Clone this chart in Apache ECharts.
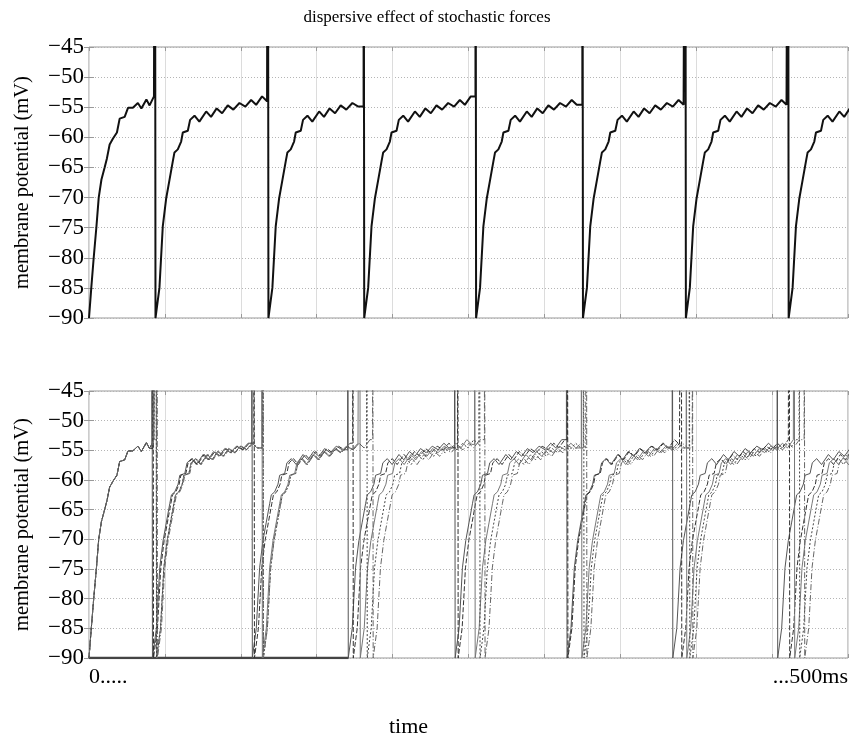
<!DOCTYPE html>
<html>
<head>
<meta charset="utf-8">
<script src="https://cdn.jsdelivr.net/npm/echarts@6/dist/echarts.min.js"></script>
<style>
  html, body { margin: 0; padding: 0; background: #fff; }
  #chart { width: 854px; height: 742px; }
</style>
</head>
<body>
<div id="chart"></div>
<script>
// charge-up from the start of the run: [ms after start, mV]
const firstRise = [
  [0, -90], [1.5, -85], [3.1, -80], [4.9, -74.8], [6.4, -70], [8.2, -67],
  [10.3, -65], [11.8, -63.5], [13.6, -61.2], [15.8, -60.2], [18.4, -59.2],
  [20.2, -56.9], [23.5, -56.6], [25.7, -55.1], [28.9, -55.1], [32.2, -54.3],
  [34.5, -55.2], [37.8, -53.7], [39.9, -54.7], [42.8, -53.2], [45.2, -54.0],
  [47.5, -53.3]
];
// charge-up after a reset: [ms after reset, mV]
const laterRise = [
  [0, -90], [2.6, -85], [4.8, -74.8], [7.0, -70.2], [9.2, -67.1], [11.4, -64],
  [12.5, -62.5], [14.7, -62], [16.9, -60.7], [18.0, -59.2], [21.3, -58.9],
  [22.8, -57.1], [25.7, -56.4], [28.9, -57.4], [33.4, -55.7], [36.6, -56.6],
  [40.3, -55.2], [43.9, -56.0], [47.6, -54.7], [51.3, -55.4], [55.3, -54.3],
  [59.2, -54.9], [63.0, -53.8], [66.3, -54.6], [70.2, -53.2], [73.5, -54.0],
  [76.3, -53.0]
];
// spike times (ms), deterministic neuron
const spikesTop = [43.4, 117.8, 180.9, 254.6, 325.0, 392.8, 460.5];
// spike times (ms), five noisy neurons
const spikesA = [41.4, 107.2, 170.4, 240.8, 314.5, 384.2, 453.3];
const spikesB = [42.1, 108.6, 173.7, 242.8, 315.1, 390.1, 461.2];
const spikesC = [44.1, 113.8, 178.3, 254.0, 324.3, 393.4, 464.5];
const spikesD = [44.1, 114.5, 182.9, 257.2, 325.7, 395.4, 467.8];
const spikesE = [44.7, 114.5, 186.8, 260.5, 327.6, 397.4, 471.1];
// one trace held at the reset level early in the run
const heldAtReset = [[0, -90], [171, -90]];
const spikePeak = 20;
const resetDelay = 0.4;
const xLabels = { 0: '0.....', 500: '...500ms' };

function trace(spikes) {
  const pts = [];
  let t0 = 0, shape = firstRise;
  spikes.forEach(s => {
    let last = shape[0][1];
    shape.forEach(([dt, v]) => {
      if (t0 + dt < s) { pts.push([t0 + dt, v]); last = v; }
    });
    pts.push([s, last], [s, spikePeak]);
    t0 = s + resetDelay;
    shape = laterRise;
  });
  shape.forEach(([dt, v]) => pts.push([t0 + dt, v]));
  return pts;
}

const serif = 'Liberation Serif';
const minus = v => (v < 0 ? '\u2212' : '') + Math.abs(v);

function xAxes(gi, bottom) {
  return [{
    type: 'value', gridIndex: gi, min: 0, max: 500, interval: 50,
    axisLine: { show: false },
    axisTick: { inside: true, length: 4, lineStyle: { color: '#999' } },
    splitLine: { show: true, lineStyle: { color: '#dcdcdc', width: 1 } },
    axisLabel: bottom ? {
      show: true, color: '#000', fontFamily: serif, fontSize: 22, margin: 8,
      formatter: v => xLabels[v] || '',
      alignMinLabel: 'left', alignMaxLabel: 'right'
    } : { show: false },
    name: bottom ? 'time' : '', nameLocation: 'middle', nameGap: 58,
    nameTextStyle: { color: '#000', fontFamily: serif, fontSize: 22, padding: [0, 120, 0, 0] }
  }, {
    type: 'value', gridIndex: gi, min: 0, max: 500, interval: 50, position: 'top',
    axisLine: { show: false },
    axisTick: { inside: true, length: 4, lineStyle: { color: '#999' } },
    splitLine: { show: false }, axisLabel: { show: false }
  }];
}

function yAxes(gi) {
  return [{
    type: 'value', gridIndex: gi, min: -90, max: -45, interval: 5,
    axisLine: { show: false },
    axisTick: { inside: true, length: 5, lineStyle: { color: '#999' } },
    splitLine: { show: true, lineStyle: { color: '#b5b5b5', type: [1, 2], width: 1 } },
    axisLabel: { color: '#000', fontFamily: serif, fontSize: 23, margin: 5, formatter: minus },
    name: 'membrane potential (mV)', nameLocation: 'middle', nameGap: 56,
    nameTextStyle: { color: '#000', fontFamily: serif, fontSize: 20.5 }
  }, {
    type: 'value', gridIndex: gi, min: -90, max: -45, interval: 5, position: 'right',
    axisLine: { show: false },
    axisTick: { inside: true, length: 5, lineStyle: { color: '#999' } },
    splitLine: { show: false }, axisLabel: { show: false }
  }];
}

function line(data, xi, yi, color, width, type) {
  return {
    type: 'line', data: data, xAxisIndex: xi, yAxisIndex: yi,
    showSymbol: false, symbol: 'none', animation: false, clip: true,
    lineStyle: { color: color, width: width, type: type || 'solid' }
  };
}

const chart = echarts.init(document.getElementById('chart'), null, { renderer: 'canvas' });
chart.setOption({
  animation: false,
  title: {
    text: 'dispersive effect of stochastic forces', left: 'center', top: 4,
    textStyle: { color: '#000', fontFamily: serif, fontSize: 17, fontWeight: 'normal' }
  },
  grid: [
    { left: 89, right: 6, top: 47, height: 271, show: true, borderColor: '#999', borderWidth: 1 },
    { left: 89, right: 6, top: 391, height: 267, show: true, borderColor: '#999', borderWidth: 1 }
  ],
  xAxis: xAxes(0, false).concat(xAxes(1, true)),
  yAxis: yAxes(0).concat(yAxes(1)),
  series: [
    line(trace(spikesTop), 0, 0, '#111', 2),
    line(heldAtReset, 2, 2, '#444', 2.5),
    line(trace(spikesA), 2, 2, '#555', 1),
    line(trace(spikesB), 2, 2, '#333', 1, [5, 2]),
    line(trace(spikesC), 2, 2, '#777', 1),
    line(trace(spikesD), 2, 2, '#444', 1, [2, 2]),
    line(trace(spikesE), 2, 2, '#666', 1, [6, 2, 1, 2])
  ]
});
</script>
</body>
</html>
